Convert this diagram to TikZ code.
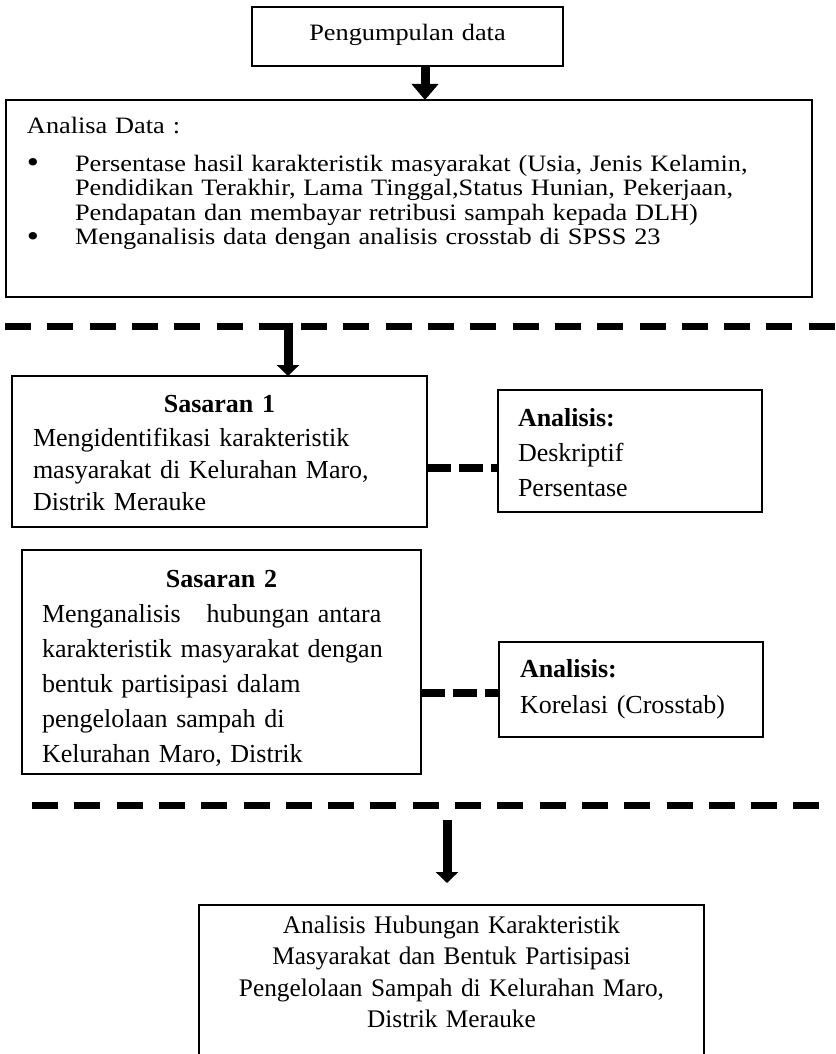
\documentclass[tikz,border=0pt]{standalone}
\usepackage{fontspec}
\setmainfont{Liberation Serif}
\newfontfamily\wideserif[FakeStretch=1.12]{Liberation Serif}
\usetikzlibrary{arrows.meta}

\newcommand{\dotmark}{\makebox[48pt][l]{\raisebox{-2pt}{\fontsize{31}{24.5}\selectfont\textbullet}}}

\begin{document}
\begin{tikzpicture}[x=1pt,y=-1pt,line width=1.2pt]
        \tikzstyle{box}=[draw,rectangle,anchor=north west,inner ysep=0pt,outer sep=0pt]
        \tikzstyle{squat}=[font=\wideserif\fontsize{23.5}{24.5}\selectfont]
        \tikzstyle{tall}=[font=\fontsize{26}{35}\selectfont]
        \tikzstyle{bigarrow}=[line width=9pt,-{Triangle[width=22pt,length=11pt]}]
        \tikzstyle{cut}=[line width=7pt,dash pattern=on 26pt off 16.3pt]
        \tikzstyle{link}=[line width=8pt,dash pattern=on 23.5pt off 8.5pt]

        \useasboundingbox (0,0) rectangle (835,1054);
        \clip (0,0) rectangle (835,1054);

        \node[box,squat,align=center,inner xsep=0pt,text width=311pt,
              text height=34pt,text depth=25pt]  (collect)  at (252,7)
              {Pengumpulan data};
        \node[box,squat,align=left,inner xsep=21pt,text width=764pt,
              text height=34pt,text depth=163pt] (analisa)  at (6,100)
              {Analisa Data :\\[12.5pt]
               \dotmark Persentase hasil karakteristik masyarakat (Usia, Jenis Kelamin,\\
               \hspace*{48pt}Pendidikan Terakhir, Lama Tinggal,Status Hunian, Pekerjaan,\\
               \hspace*{48pt}Pendapatan dan membayar retribusi sampah kepada DLH)\\
               \dotmark Menganalisis data dengan analisis crosstab di SPSS 23};

        % sasaran 1
        \node[box,tall,font=\fontsize{26}{32}\selectfont,align=left,inner xsep=21pt,text width=373pt,
              text height=36pt,text depth=115pt] (sasaran1) at (12,376)
              {\makebox[\linewidth]{\bfseries Sasaran 1}\\[2pt]
               Mengidentifikasi karakteristik\\
               masyarakat di Kelurahan Maro,\\
               Distrik Merauke};
        \node[box,tall,align=left,inner xsep=20pt,text width=224pt,
              text height=36pt,text depth=86pt]  (metode1)  at (498,390)
              {\textbf{Analisis:}\\ Deskriptif\\ Persentase};

        % sasaran 2
        \node[box,tall,align=left,inner xsep=20pt,text width=359pt,
              text height=37pt,text depth=187pt] (sasaran2) at (22,550)
              {\makebox[\linewidth]{\bfseries Sasaran 2}\\
               Menganalisis~~ hubungan antara\\
               karakteristik masyarakat dengan\\
               bentuk partisipasi dalam\\
               pengelolaan sampah di\\
               Kelurahan Maro, Distrik};
        \node[box,tall,font=\fontsize{26}{36}\selectfont,align=left,inner xsep=21pt,text width=222pt,
              text height=35pt,text depth=60pt]  (metode2)  at (499,642)
              {\textbf{Analisis:}\\ Korelasi (Crosstab)};

        % hasil
        \node[box,font=\fontsize{25.3}{31.5}\selectfont,align=center,inner xsep=0pt,text width=505pt,
              text height=28pt,text depth=200pt] (hasil)    at (199,905)
              {Analisis Hubungan Karakteristik\\
               Masyarakat dan Bentuk Partisipasi\\
               Pengelolaan Sampah di Kelurahan Maro,\\
               Distrik Merauke};

        \coordinate (cutL1) at (0,326);
        \coordinate (cutR1) at (835,326);
        \coordinate (cutL2) at (32,805);
        \coordinate (cutR2) at (835,805);
        \coordinate (drop1) at (288,323);
        \coordinate (drop2) at (447,820);

        \draw[bigarrow,-{Triangle[width=26pt,length=16pt]}]
              ([xshift=17.5pt]collect.south) -- ([xshift=17.5pt]collect.south |- analisa.north);
        \draw[cut,dash phase=37.3pt] (cutL1) -- (cutR1);
        \draw[bigarrow] (drop1) -- (drop1 |- sasaran1.north);
        \draw[link] ([yshift=-17pt]metode1.west -| sasaran1.east) -- ([yshift=-17pt]metode1.west);
        \draw[link] ([yshift=-3.5pt]metode2.west -| sasaran2.east) -- ([yshift=-3.5pt]metode2.west);
        \draw[cut] (cutL2) -- (cutR2);
        \draw[bigarrow] (drop2) -- ([yshift=22pt]drop2 |- hasil.north);
\end{tikzpicture}
\end{document}
